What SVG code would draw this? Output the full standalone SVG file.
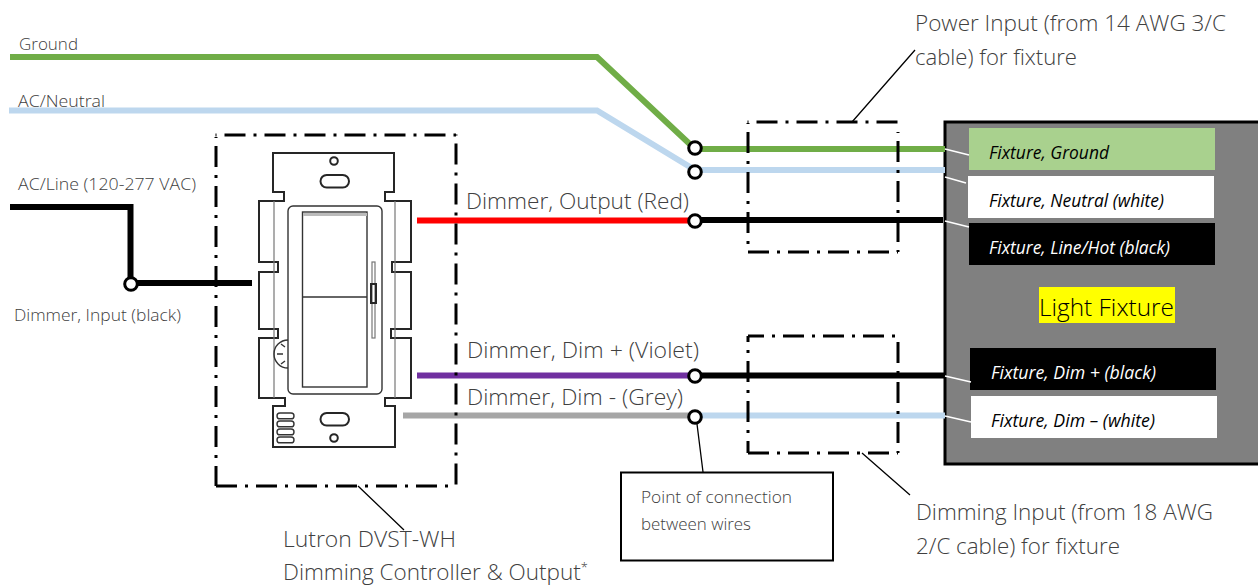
<svg xmlns="http://www.w3.org/2000/svg" width="1258" height="586" viewBox="0 0 1258 586">
<defs><style>
text{font-family:"Open Sans","Noto Sans","Liberation Sans",sans-serif;fill:#404040}
.big{font-size:22.500px;font-weight:300}
.sm{font-size:17px;font-weight:300}
.fx{font-size:17.400px;font-style:italic;fill:#fff}
.blk{fill:#000}
.wire{fill:none;stroke-width:6}
.dd{fill:none;stroke:#000;stroke-width:3;stroke-dasharray:21 8 3 8}
.lead{fill:none;stroke:#000;stroke-width:1.300}
.wl{stroke:#fff;stroke-width:1.500;fill:none}
.dot{fill:#fff;stroke:#000;stroke-width:3}
.sw{fill:none;stroke:#262626;stroke-width:2}
.sw2{fill:none;stroke:#333;stroke-width:1.400}
.thin{fill:none;stroke:#777;stroke-width:1.200}
</style></defs>
<rect width="1258" height="586" fill="#fff"/>
<g id="fixture">
<rect x="945" y="122" width="330" height="342" fill="#808080" stroke="#000" stroke-width="3"/>
<rect x="969" y="128" width="246" height="42" fill="#a9d18e"/>
<text class="fx blk" x="989" y="159" textLength="120" lengthAdjust="spacingAndGlyphs">Fixture, Ground</text>
<rect x="968" y="176" width="246" height="42" fill="#fff"/>
<text class="fx blk" x="989" y="207" textLength="175" lengthAdjust="spacingAndGlyphs">Fixture, Neutral (white)</text>
<rect x="969" y="223" width="246" height="42" fill="#000"/>
<text class="fx" x="989" y="254" textLength="181" lengthAdjust="spacingAndGlyphs">Fixture, Line/Hot (black)</text>
<rect x="1039" y="287" width="136" height="36" fill="#ffff00"/>
<text x="1039" y="316" textLength="135" lengthAdjust="spacingAndGlyphs" style="font-size:24.500px;font-weight:300;fill:#000">Light Fixture</text>
<rect x="970" y="348" width="246" height="42" fill="#000"/>
<text class="fx" x="991" y="379" textLength="165" lengthAdjust="spacingAndGlyphs">Fixture, Dim + (black)</text>
<rect x="971" y="396" width="246" height="42" fill="#fff"/>
<text class="fx blk" x="991" y="427" textLength="164" lengthAdjust="spacingAndGlyphs">Fixture, Dim – (white)</text>
</g>
<g id="connectors">
<path class="wire" stroke="#70ad47" d="M10 57H597L695 149H945"/>
<path class="wire" stroke="#bdd7ee" d="M9 110.500H597L695 170H945"/>
<path class="wire" stroke="#000" d="M10 207H130.500V283H252"/>
<path class="wire" stroke="#f00" d="M417 220.500H695"/>
<path class="wire" stroke="#000" d="M695 220H943"/>
<path class="wire" stroke="#7030a0" d="M417 375.500H695"/>
<path class="wire" stroke="#000" d="M695 375.500H945"/>
<path class="wire" stroke="#a6a6a6" d="M403 415.500H695"/>
<path class="wire" stroke="#bdd7ee" d="M695 415.500H945"/>
<path class="lead" d="M852 122L915 50M862 453L910 495M358 486L404 530M697 424L703 472"/>
<path class="wl" d="M945 149L969 155M945 177L966 183M945 221L969 227M945 376L971 382M945 416L971 422"/>
</g>
<g id="junctions">
<circle class="dot" cx="695" cy="148" r="6.300"/>
<circle class="dot" cx="695" cy="172" r="6.300"/>
<circle class="dot" cx="695" cy="221" r="6.300"/>
<circle class="dot" cx="695" cy="376" r="6.300"/>
<circle class="dot" cx="695" cy="417" r="6.300"/>
<circle class="dot" cx="131" cy="284" r="6.300"/>
</g>
<g id="dimmer">
<path class="sw" d="M273 153H394V192H385V201H411V262H392V272H411V329H391V338H411V398H385V406H395V447H273V406H285V398H259V338H278V329H259V272H278V262H259V201H284V192H273Z"/>
<path class="thin" d="M274 201V398M395 201V398"/>
<rect x="288" y="206" width="94" height="188" rx="5" class="sw2"/>
<rect x="302.500" y="212" width="64.500" height="175" class="sw2"/>
<rect x="303" y="213" width="64" height="3" fill="#bbb"/>
<path class="sw2" d="M302.500 297H367"/>
<rect x="372" y="262" width="3" height="76" class="thin"/>
<rect x="371" y="284" width="5" height="19" class="sw"/>
<circle cx="334" cy="161" r="3.800" class="sw"/>
<circle cx="334" cy="438" r="3.800" class="sw"/>
<rect x="320.500" y="175" width="28.500" height="12.500" rx="6.200" class="sw"/>
<rect x="320.500" y="413" width="28.500" height="12.500" rx="6.200" class="sw"/>
<rect x="277" y="413" width="17" height="5.800" rx="2.900" class="sw2"/>
<rect x="277" y="421" width="17" height="5.800" rx="2.900" class="sw2"/>
<rect x="277" y="429" width="17" height="5.800" rx="2.900" class="sw2"/>
<rect x="277" y="437" width="17" height="5.800" rx="2.900" class="sw2"/>
<path class="sw2" d="M288 340A13.500 13.500 0 0 0 288 368M277 354H283M281 344L285 347M281 364L285 361"/>
</g>
<g id="boxes">
<path class="dd" stroke-dashoffset="31" d="M215.500 135H456M456 134.500V486"/>
<path class="dd" stroke-dashoffset="31" d="M216 137V486"/>
<path class="dd" d="M216 486H456"/>
<path class="dd" stroke-dashoffset="31" d="M747.500 122H898"/>
<path class="dd" stroke-dashoffset="31" d="M748 123V252"/>
<path class="dd" stroke-dashoffset="31" d="M898 132V252"/>
<path class="dd" d="M748 252H898"/>
<path class="dd" stroke-dashoffset="5" d="M748 336H898"/>
<path class="dd" stroke-dashoffset="15" d="M748 336V453"/>
<path class="dd" d="M898 342V453"/>
<path class="dd" d="M748 453H898"/>
</g>
<g id="note">
<rect x="621" y="472.500" width="212" height="88" fill="#fff" stroke="#000" stroke-width="2"/>
<text class="sm" x="641" y="503" textLength="151" lengthAdjust="spacingAndGlyphs">Point of connection</text>
<text class="sm" x="641" y="530" textLength="110" lengthAdjust="spacingAndGlyphs">between wires</text>
</g>
<g id="labels">
<text class="sm" x="19" y="50" textLength="59" lengthAdjust="spacingAndGlyphs">Ground</text>
<text class="sm" x="18" y="107" textLength="87" lengthAdjust="spacingAndGlyphs">AC/Neutral</text>
<text class="sm" x="18" y="190" textLength="178" lengthAdjust="spacingAndGlyphs">AC/Line (120-277 VAC)</text>
<text class="sm" x="14" y="321" textLength="167" lengthAdjust="spacingAndGlyphs">Dimmer, Input (black)</text>
<text class="big" x="466" y="209" textLength="223" lengthAdjust="spacingAndGlyphs">Dimmer, Output (Red)</text>
<text class="big" x="467" y="358" textLength="232" lengthAdjust="spacingAndGlyphs">Dimmer, Dim + (Violet)</text>
<text class="big" x="467" y="405" textLength="216" lengthAdjust="spacingAndGlyphs">Dimmer, Dim - (Grey)</text>
<text class="big" x="915" y="31" textLength="311" lengthAdjust="spacingAndGlyphs">Power Input (from 14 AWG 3/C</text>
<text class="big" x="915" y="65" textLength="162" lengthAdjust="spacingAndGlyphs">cable) for fixture</text>
<text class="big" x="916" y="520" textLength="297" lengthAdjust="spacingAndGlyphs">Dimming Input (from 18 AWG</text>
<text class="big" x="916" y="554" textLength="204" lengthAdjust="spacingAndGlyphs">2/C cable) for fixture</text>
<text class="big" x="283" y="547" textLength="173" lengthAdjust="spacingAndGlyphs">Lutron DVST-WH</text>
<text class="big" x="283" y="580">Dimming Controller &amp; Output<tspan font-size="13" dy="-8">*</tspan></text>
</g>
</svg>
